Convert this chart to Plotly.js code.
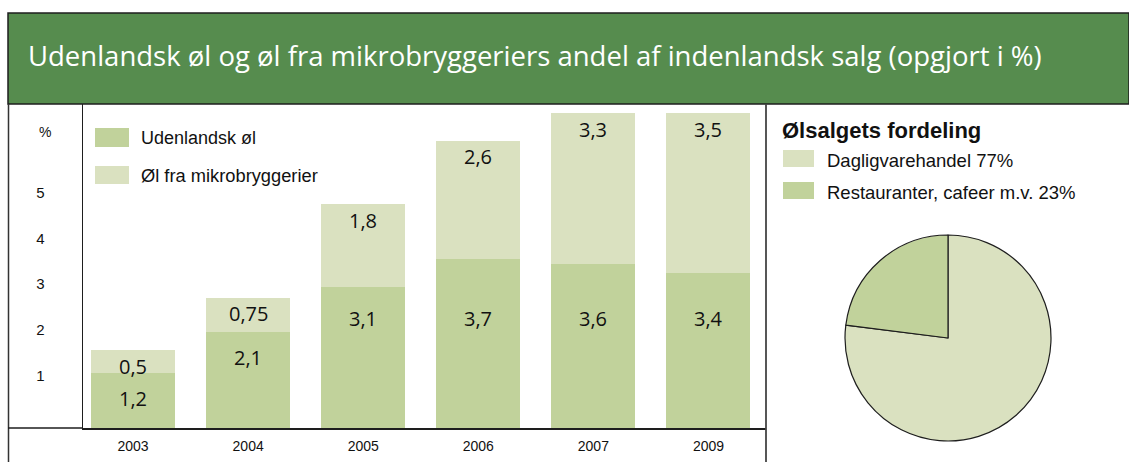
<!DOCTYPE html>
<html>
<head>
<meta charset="utf-8">
<script src="https://cdn.plot.ly/plotly-3.0.1.min.js"></script>
<style>html,body{margin:0;padding:0;background:#fff;}#chart{width:1129px;height:462px;}</style>
</head>
<body>
<div id="chart"></div>
<script>
// ---- data ----
const years = ['2003', '2004', '2005', '2006', '2007', '2009'];
const udenlandsk = [1.2, 2.1, 3.1, 3.7, 3.6, 3.4];
const mikro = [0.5, 0.75, 1.8, 2.6, 3.3, 3.5];
const yTicks = [1, 2, 3, 4, 5];
const seriesNames = ['Udenlandsk øl', 'Øl fra mikrobryggerier'];
const pieLabels = ['Dagligvarehandel', 'Restauranter, cafeer m.v.'];
const pieValues = [77, 23];
const chartTitle = 'Udenlandsk øl og øl fra mikrobryggeriers andel af indenlandsk salg (opgjort i %)';
const pieTitle = 'Ølsalgets fordeling';

// ---- style ----
const W = 1129, H = 462;
const DARK = '#c1d29b', LIGHT = '#dae1c0', HEAD = '#568c4e', LINE = '#1e1e1e';
const px = x => x / W;
const py = y => 1 - y / H;
const fmt = v => String(v).replace('.', ',');

const traces = [
  {type: 'bar', x: years, y: udenlandsk, name: seriesNames[0], marker: {color: DARK}, showlegend: false, hoverinfo: 'x+y+name'},
  {type: 'bar', x: years, y: mikro, name: seriesNames[1], marker: {color: LIGHT}, showlegend: false, hoverinfo: 'x+y+name'},
  {type: 'pie', labels: pieLabels, values: pieValues, sort: false, direction: 'clockwise', rotation: 0,
   marker: {colors: [LIGHT, DARK], line: {color: LINE, width: 1.2}}, textinfo: 'none', showlegend: false,
   domain: {x: [px(845), px(1051)], y: [py(441), py(235)]}}
];

const annotations = [];
// value labels (x given as category index on the category axis)
years.forEach((yr, i) => {
  annotations.push({xref: 'x', yref: 'y', x: i, y: Math.min(udenlandsk[i] - 0.55, 2.4), text: fmt(udenlandsk[i]),
    showarrow: false, font: {family: 'Open Sans', size: 20, color: '#111'}});
  annotations.push({xref: 'x', yref: 'y', x: i, y: udenlandsk[i] + mikro[i] - 0.35, text: fmt(mikro[i]),
    showarrow: false, font: {family: 'Open Sans', size: 20, color: '#111'}});
});
// title
annotations.push({xref: 'paper', yref: 'paper', x: px(26), y: py(55), xanchor: 'left', yanchor: 'middle',
  text: chartTitle, showarrow: false, font: {family: 'Open Sans', size: 27.5, color: '#ffffff'}});
// % unit
annotations.push({xref: 'paper', yref: 'paper', x: px(45), y: py(132), xanchor: 'center', yanchor: 'middle',
  text: '%', showarrow: false, font: {family: 'Liberation Sans', size: 14, color: '#111'}});
// bar legend texts
annotations.push({xref: 'paper', yref: 'paper', x: px(139), y: py(138), xanchor: 'left', yanchor: 'middle',
  text: seriesNames[0], showarrow: false, font: {family: 'Liberation Sans', size: 18, color: '#111'}});
annotations.push({xref: 'paper', yref: 'paper', x: px(139), y: py(175), xanchor: 'left', yanchor: 'middle',
  text: seriesNames[1], showarrow: false, font: {family: 'Liberation Sans', size: 18.3, color: '#111'}});
// pie legend
annotations.push({xref: 'paper', yref: 'paper', x: px(780), y: py(130), xanchor: 'left', yanchor: 'middle',
  text: '<b>' + pieTitle + '</b>', showarrow: false, font: {family: 'Liberation Sans', size: 22, color: '#111'}});
pieLabels.forEach((lab, i) => {
  annotations.push({xref: 'paper', yref: 'paper', x: px(825), y: py(160 + i * 32), xanchor: 'left', yanchor: 'middle',
    text: lab + ' ' + pieValues[i] + '%', showarrow: false, font: {family: 'Liberation Sans', size: 18.5, color: '#111'}});
});

const rect = (x0, y0, x1, y1, fill, line) => ({type: 'rect', xref: 'paper', yref: 'paper', layer: 'above',
  x0: px(x0), x1: px(x1), y0: py(y1), y1: py(y0), fillcolor: fill, line: line || {width: 0}});
const seg = (x0, y0, x1, y1, color, w) => ({type: 'line', xref: 'paper', yref: 'paper',
  x0: px(x0), x1: px(x1), y0: py(y0), y1: py(y1), line: {color: color, width: w}});

const shapes = [
  rect(8, 13, 1129, 104, HEAD, {color: LINE, width: 1.5}),
  seg(8.5, 104, 8.5, 462, '#333', 1.5),
  seg(8, 428, 83, 428, LINE, 1.5),
  seg(766, 104, 766, 462, '#444', 1.8),
  // legend swatches
  rect(95, 128, 129, 147, DARK),
  rect(95, 166, 129, 184, LIGHT),
  rect(783, 150, 814, 167, LIGHT),
  rect(783, 182, 814, 199, DARK)
];

const layout = {
  width: W, height: H, margin: {l: 0, r: 0, t: 0, b: 0},
  paper_bgcolor: '#fff', plot_bgcolor: 'rgba(0,0,0,0)',
  barmode: 'stack', bargap: 0.27,
  showlegend: false,
  xaxis: {domain: [px(83), px(766)], type: 'category', range: [-0.435, 5.5], showline: true, linecolor: LINE, linewidth: 1.5,
    ticks: '', showgrid: false, zeroline: false, ticklabelstandoff: 5, fixedrange: true,
    tickfont: {family: 'Liberation Sans', size: 14, color: '#111'}},
  yaxis: {domain: [py(428), py(104)], range: [0, 7.1], showline: true, linecolor: LINE, linewidth: 1.5, mirror: false,
    tickvals: yTicks, ticktext: yTicks.map(String), ticks: '', showgrid: false, zeroline: false,
    ticklabelstandoff: 34, ticklabelshift: -7, fixedrange: true,
    tickfont: {family: 'Liberation Sans', size: 15, color: '#111'}},
  annotations: annotations,
  shapes: shapes
};

Plotly.newPlot('chart', traces, layout, {displayModeBar: false, staticPlot: true});
</script>
</body>
</html>
